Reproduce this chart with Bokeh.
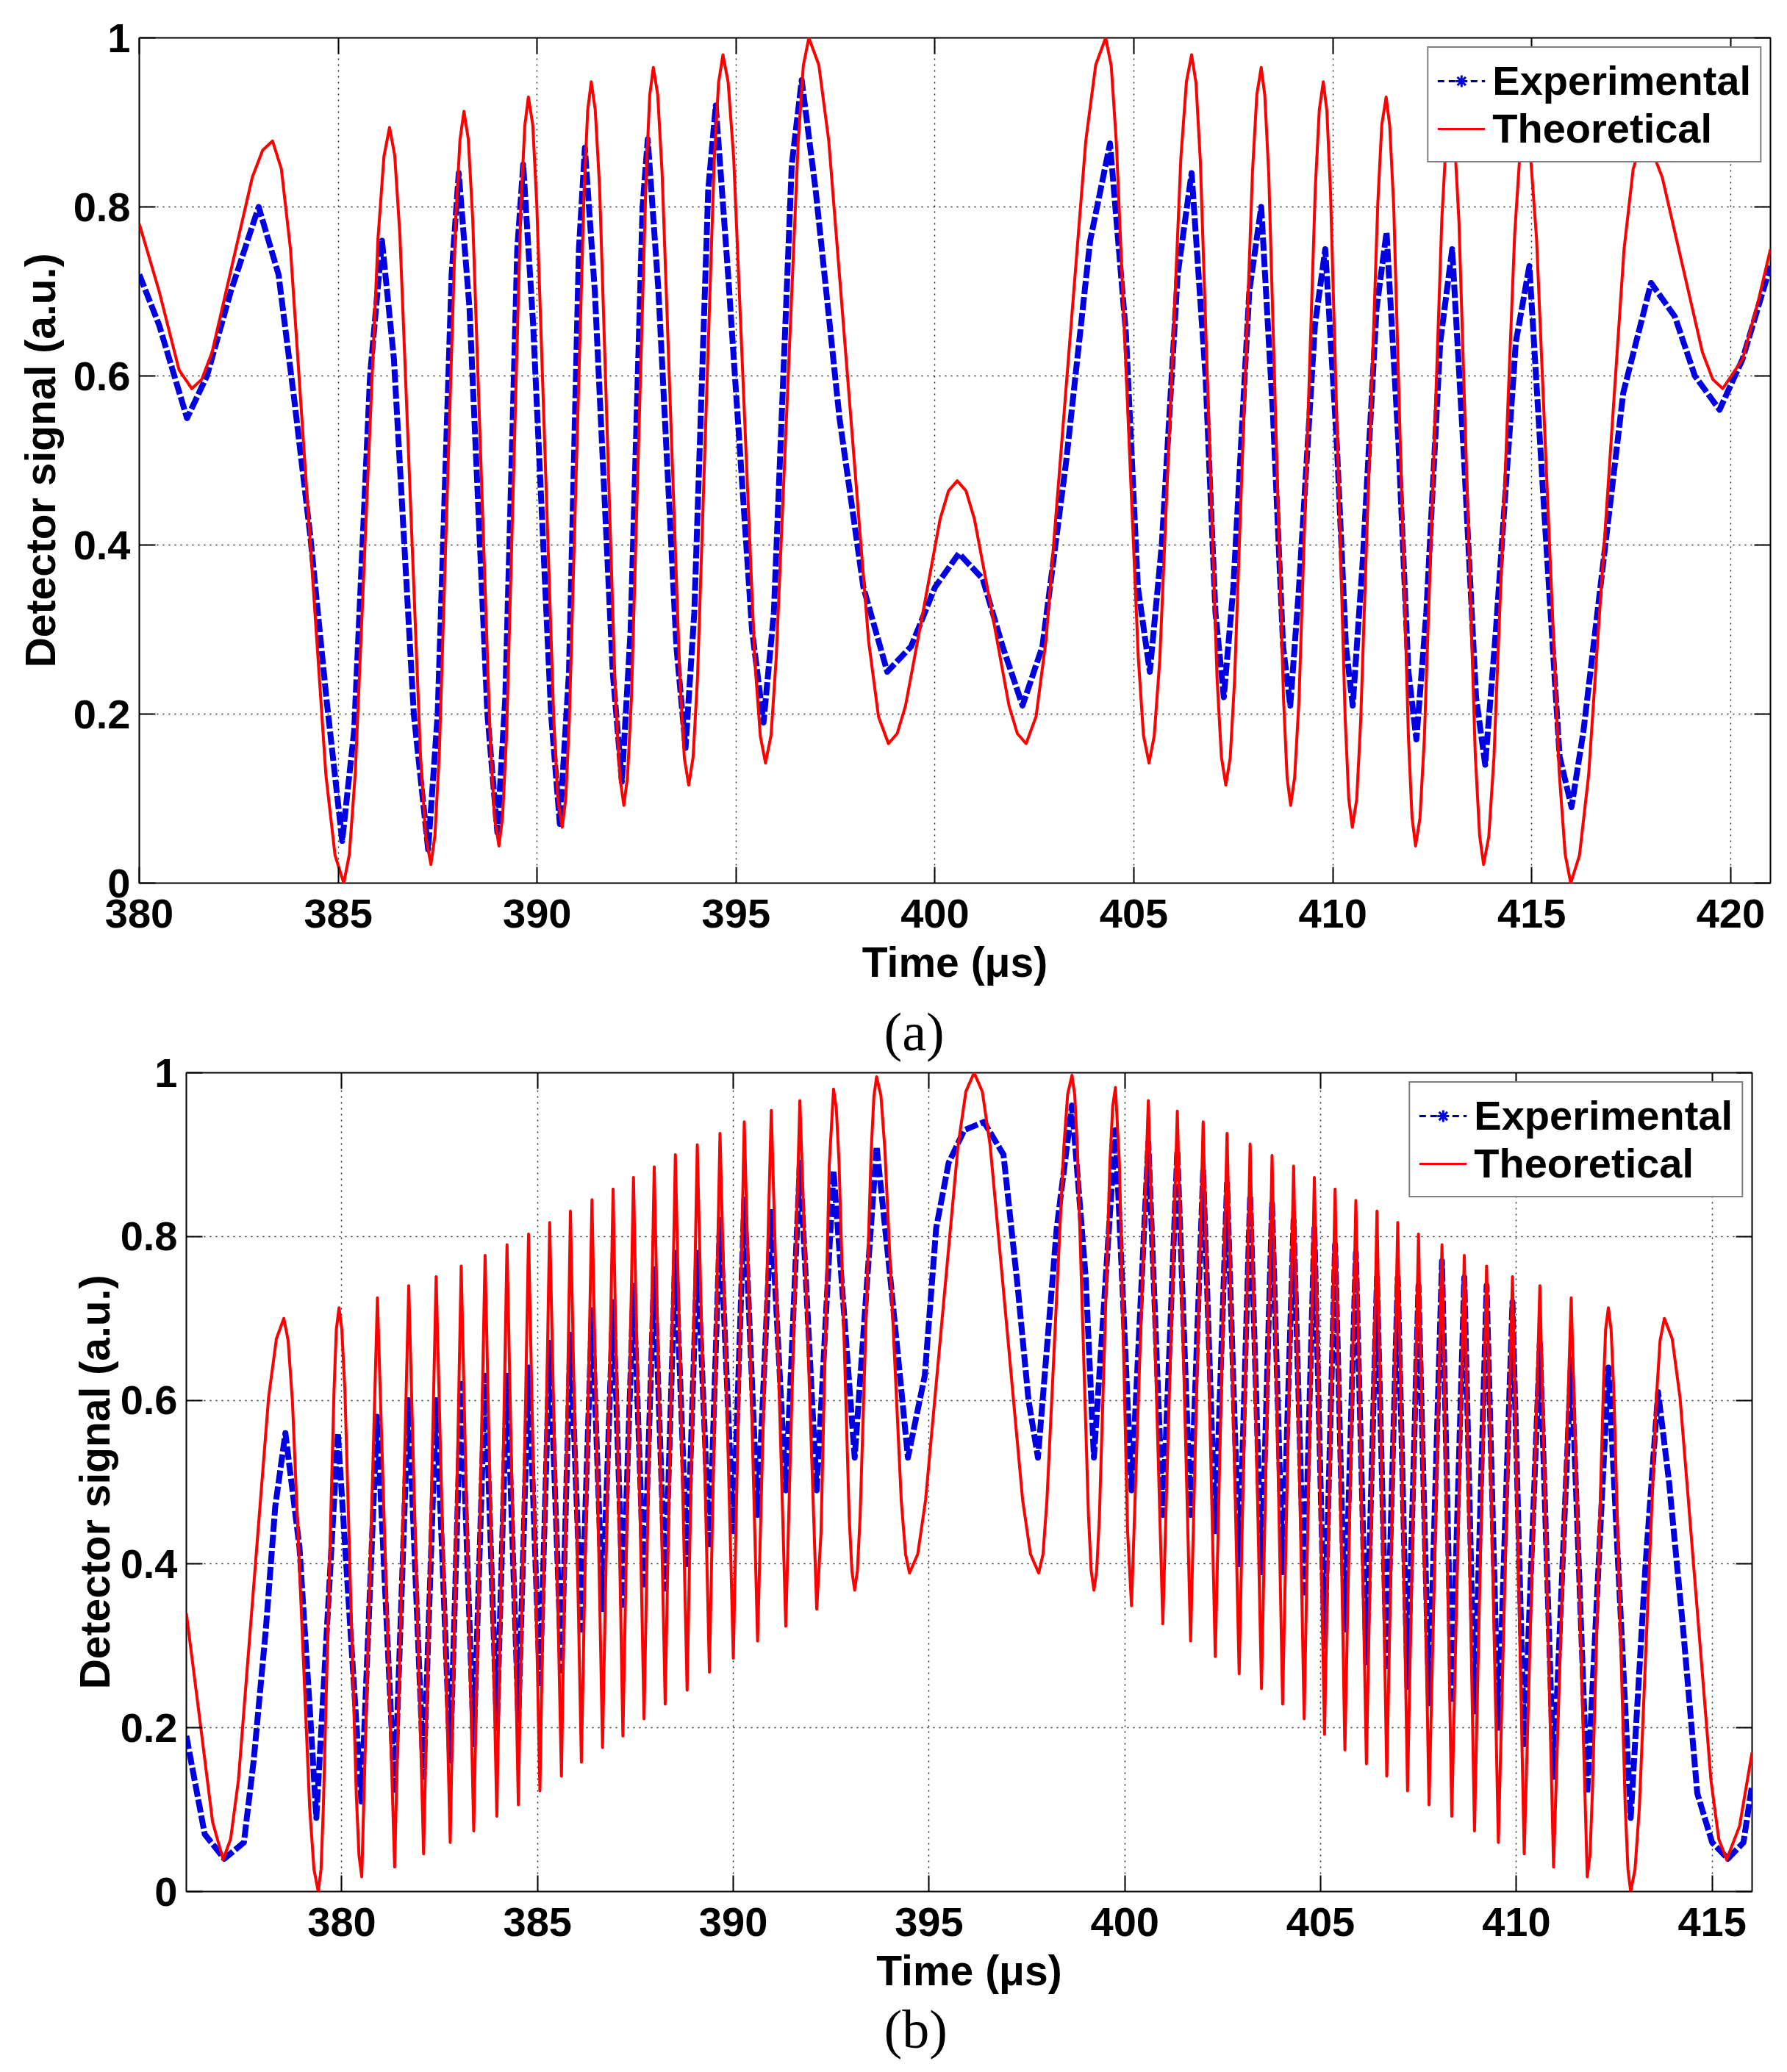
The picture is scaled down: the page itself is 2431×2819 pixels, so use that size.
from bokeh.plotting import figure
from bokeh.models import (FixedTicker, LinearAxis, Legend, LegendItem, Title,
                          CustomJSTickFormatter, Range1d)
from bokeh.embed import file_html
from bokeh.resources import INLINE

# ---------------- data ----------------
# panel (a)
a_theoretical = [
    (380.0, 0.78), (380.5, 0.70), (381.0, 0.607), (381.32, 0.585),
    (381.57, 0.596), (381.83, 0.628), (382.84, 0.835), (383.10, 0.867), (383.35, 0.878),
    (383.57, 0.845), (383.80, 0.750), (384.245, 0.439), (384.69, 0.128), (384.92, 0.033), (385.14, 0.0),
    (385.28, 0.034), (385.43, 0.131), (386.00, 0.763), (386.15, 0.860), (386.29, 0.894),
    (386.42, 0.861), (386.55, 0.767), (387.07, 0.149), (387.20, 0.055), (387.33, 0.022),
    (387.43, 0.056), (387.54, 0.152), (387.95, 0.783), (388.06, 0.879), (388.16, 0.913),
    (388.27, 0.880), (388.38, 0.786), (388.82, 0.171), (388.93, 0.077), (389.04, 0.044),
    (389.13, 0.078), (389.23, 0.173), (389.59, 0.801), (389.69, 0.896), (389.78, 0.93),
    (389.89, 0.897), (389.99, 0.804), (390.42, 0.192), (390.52, 0.099), (390.63, 0.066),
    (390.72, 0.100), (390.81, 0.195), (391.18, 0.819), (391.27, 0.914), (391.36, 0.948),
    (391.46, 0.915), (391.57, 0.823), (391.97, 0.217), (392.08, 0.125), (392.18, 0.092),
    (392.27, 0.125), (392.37, 0.219), (392.74, 0.838), (392.83, 0.932), (392.92, 0.965),
    (393.03, 0.933), (393.14, 0.841), (393.59, 0.240), (393.70, 0.148), (393.81, 0.116),
    (393.92, 0.149), (394.03, 0.242), (394.45, 0.854), (394.56, 0.947), (394.67, 0.98),
    (394.80, 0.948), (394.94, 0.858), (395.47, 0.264), (395.61, 0.174), (395.74, 0.142),
    (395.88, 0.175), (396.01, 0.267), (396.56, 0.875), (396.69, 0.967), (396.83, 1.0),
    (397.08, 0.968), (397.33, 0.878), (397.83, 0.583), (398.33, 0.287), (398.58, 0.197), (398.83, 0.165),
    (399.05, 0.177), (399.26, 0.210), (399.70, 0.321), (400.13, 0.431), (400.34, 0.464), (400.56, 0.476),
    (400.78, 0.464), (400.99, 0.431), (401.43, 0.321), (401.86, 0.210), (402.07, 0.177), (402.29, 0.165),
    (402.54, 0.197), (402.79, 0.287), (403.29, 0.583), (403.79, 0.878), (404.04, 0.968), (404.29, 1.0),
    (404.43, 0.967), (404.56, 0.875), (405.11, 0.267), (405.24, 0.175), (405.38, 0.142),
    (405.51, 0.174), (405.65, 0.264), (406.18, 0.858), (406.32, 0.948), (406.45, 0.98),
    (406.56, 0.947), (406.67, 0.854), (407.09, 0.242), (407.20, 0.149), (407.31, 0.116),
    (407.42, 0.148), (407.53, 0.240), (407.98, 0.841), (408.09, 0.933), (408.2, 0.965),
    (408.29, 0.932), (408.39, 0.838), (408.76, 0.219), (408.85, 0.125), (408.94, 0.092),
    (409.04, 0.125), (409.15, 0.217), (409.56, 0.823), (409.66, 0.915), (409.76, 0.948),
    (409.85, 0.914), (409.94, 0.819), (410.31, 0.195), (410.40, 0.100), (410.49, 0.066),
    (410.60, 0.099), (410.70, 0.192), (411.13, 0.804), (411.23, 0.897), (411.34, 0.93),
    (411.43, 0.896), (411.53, 0.801), (411.90, 0.173), (411.99, 0.078), (412.08, 0.044),
    (412.19, 0.077), (412.30, 0.171), (412.74, 0.786), (412.85, 0.880), (412.96, 0.913),
    (413.06, 0.879), (413.17, 0.783), (413.58, 0.152), (413.69, 0.056), (413.79, 0.022),
    (413.92, 0.055), (414.05, 0.149), (414.57, 0.767), (414.70, 0.861), (414.83, 0.894),
    (414.97, 0.860), (415.12, 0.763), (415.69, 0.131), (415.84, 0.034), (415.98, 0.0),
    (416.20, 0.033), (416.43, 0.128), (416.875, 0.439), (417.32, 0.750), (417.55, 0.845), (417.77, 0.878),
    (418.02, 0.867), (418.28, 0.835), (419.29, 0.628), (419.55, 0.596), (419.8, 0.585),
    (420.3, 0.62), (420.7, 0.69), (421.0, 0.75),
]

a_experimental = [
    (380.0, 0.72), (380.5, 0.66), (381.2, 0.55), (381.7, 0.60), (382.3, 0.70),
    (383.0, 0.80), (383.5, 0.72), (383.9, 0.57), (384.3, 0.41), (384.7, 0.22),
    (385.1, 0.05), (385.4, 0.18), (385.8, 0.60), (386.1, 0.76), (386.4, 0.62),
    (386.9, 0.20), (387.26, 0.04), (387.5, 0.20), (387.85, 0.72), (388.03, 0.84),
    (388.3, 0.68), (388.75, 0.20), (389.0, 0.06), (389.2, 0.22), (389.5, 0.75),
    (389.65, 0.85), (389.9, 0.66), (390.35, 0.20), (390.57, 0.07), (390.8, 0.25),
    (391.05, 0.75), (391.2, 0.87), (391.45, 0.70), (391.9, 0.25), (392.13, 0.12),
    (392.35, 0.30), (392.65, 0.80), (392.78, 0.88), (393.05, 0.70), (393.5, 0.28),
    (393.73, 0.16), (393.95, 0.32), (394.3, 0.82), (394.49, 0.92), (394.8, 0.72),
    (395.4, 0.30), (395.69, 0.19), (395.95, 0.32), (396.4, 0.85), (396.65, 0.95),
    (397.0, 0.82), (397.6, 0.55), (398.2, 0.35), (398.8, 0.25), (399.4, 0.28),
    (400.0, 0.35), (400.6, 0.39), (401.2, 0.36), (401.7, 0.28), (402.2, 0.21),
    (402.7, 0.28), (403.3, 0.50), (403.9, 0.76), (404.4, 0.875), (404.8, 0.65),
    (405.1, 0.35), (405.4, 0.25), (405.7, 0.40), (406.1, 0.72), (406.45, 0.84),
    (406.8, 0.60), (407.05, 0.32), (407.26, 0.22), (407.5, 0.35), (407.9, 0.70),
    (408.2, 0.80), (408.5, 0.55), (408.75, 0.28), (408.93, 0.21), (409.15, 0.35),
    (409.55, 0.66), (409.81, 0.75), (410.1, 0.52), (410.33, 0.28), (410.5, 0.21),
    (410.75, 0.38), (411.1, 0.68), (411.35, 0.77), (411.65, 0.52), (411.9, 0.25),
    (412.1, 0.17), (412.35, 0.32), (412.7, 0.64), (413.0, 0.75), (413.3, 0.50),
    (413.6, 0.22), (413.83, 0.14), (414.1, 0.30), (414.6, 0.64), (414.94, 0.73),
    (415.3, 0.45), (415.7, 0.15), (416.0, 0.09), (416.3, 0.18), (416.8, 0.38),
    (417.3, 0.58), (418.0, 0.71), (418.6, 0.67), (419.1, 0.60), (419.72, 0.56),
    (420.3, 0.62), (421.0, 0.73),
]

# panel (b)
b_theoretical = [
    (376.03, 0.34), (376.4, 0.20), (376.7, 0.085), (376.97, 0.039),
    (377.16, 0.064), (377.36, 0.136), (377.745, 0.37), (378.13, 0.603), (378.33, 0.675), (378.52, 0.70),
    (378.63, 0.673), (378.74, 0.598), (379.18, 0.102), (379.29, 0.027), (379.4, 0.0),
    (379.47, 0.027), (379.53, 0.104), (379.80, 0.609), (379.86, 0.686), (379.93, 0.713),
    (380.00, 0.687), (380.08, 0.612), (380.37, 0.119), (380.44, 0.044), (380.51, 0.018),
    (380.91, 0.725), (381.35, 0.03), (381.71, 0.74), (382.09, 0.046),
    (382.41, 0.751), (382.77, 0.06), (383.05, 0.764), (383.37, 0.074),
    (383.66, 0.777), (383.96, 0.092), (384.22, 0.79), (384.51, 0.106),
    (384.77, 0.803), (385.06, 0.123), (385.31, 0.817), (385.61, 0.141),
    (385.84, 0.831), (386.12, 0.158), (386.39, 0.845), (386.66, 0.176),
    (386.93, 0.858), (387.18, 0.19), (387.45, 0.872), (387.72, 0.211),
    (387.98, 0.885), (388.26, 0.229), (388.52, 0.9), (388.82, 0.246),
    (389.08, 0.912), (389.39, 0.268), (389.66, 0.926), (390.0, 0.285),
    (390.28, 0.94), (390.62, 0.306), (390.97, 0.954), (391.34, 0.324),
    (391.7, 0.966), (392.13, 0.345),
    (392.24, 0.438), (392.45, 0.887), (392.56, 0.98),
    (392.63, 0.957), (392.70, 0.891), (392.96, 0.457), (393.03, 0.391), (393.1, 0.368),
    (393.17, 0.392), (393.24, 0.46), (393.52, 0.903), (393.59, 0.971), (393.66, 0.995),
    (393.77, 0.972), (393.87, 0.907), (394.29, 0.477), (394.40, 0.412), (394.5, 0.389),
    (394.71, 0.412), (394.91, 0.478), (395.325, 0.695), (395.74, 0.911), (395.94, 0.977), (396.15, 1.0),
    (396.36, 0.977), (396.56, 0.911), (396.975, 0.695), (397.39, 0.478), (397.59, 0.412), (397.8, 0.389),
    (397.91, 0.412), (398.01, 0.478), (398.44, 0.908), (398.54, 0.974), (398.65, 0.997),
    (398.72, 0.973), (398.79, 0.905), (399.07, 0.46), (399.14, 0.392), (399.21, 0.368),
    (399.28, 0.391), (399.35, 0.458), (399.62, 0.892), (399.69, 0.959), (399.76, 0.982),
    (399.86, 0.89), (400.07, 0.44), (400.17, 0.349),
    (400.6, 0.966), (400.97, 0.327), (401.34, 0.953), (401.68, 0.306),
    (402.0, 0.94), (402.31, 0.287), (402.61, 0.926), (402.92, 0.266),
    (403.2, 0.913), (403.49, 0.248), (403.76, 0.899), (404.03, 0.229),
    (404.31, 0.886), (404.58, 0.211), (404.84, 0.872), (405.1, 0.192),
    (405.37, 0.858), (405.62, 0.173), (405.9, 0.844), (406.17, 0.156),
    (406.44, 0.831), (406.69, 0.141), (406.97, 0.817), (407.22, 0.123),
    (407.5, 0.803), (407.77, 0.106), (408.1, 0.79), (408.35, 0.092),
    (408.67, 0.777), (408.93, 0.074), (409.24, 0.764), (409.54, 0.06),
    (409.9, 0.751), (410.2, 0.046), (410.6, 0.74), (410.95, 0.03),
    (411.4, 0.725), (411.81, 0.018),
    (411.88, 0.044), (411.94, 0.119), (412.22, 0.612), (412.28, 0.687), (412.35, 0.713),
    (412.42, 0.686), (412.49, 0.609), (412.78, 0.104), (412.85, 0.027), (412.92, 0.0),
    (413.03, 0.027), (413.14, 0.102), (413.57, 0.598), (413.67, 0.673), (413.78, 0.70),
    (413.98, 0.675), (414.18, 0.603), (414.575, 0.37), (414.97, 0.136), (415.17, 0.064), (415.37, 0.039),
    (415.7, 0.08), (416.02, 0.17),
]

b_experimental = [
    (376.03, 0.19), (376.5, 0.07), (377.0, 0.04), (377.5, 0.06), (377.75, 0.16),
    (378.06, 0.32), (378.3, 0.47), (378.56, 0.56), (378.92, 0.42), (379.2, 0.21),
    (379.35, 0.09), (379.9, 0.56), (380.5, 0.11), (380.9, 0.58), (381.35, 0.12),
    (381.7, 0.60), (382.09, 0.14), (382.41, 0.60), (382.77, 0.16), (383.05, 0.62),
    (383.37, 0.18), (383.66, 0.63), (383.96, 0.20), (384.22, 0.63), (384.51, 0.21),
    (384.77, 0.64), (385.06, 0.25), (385.31, 0.67), (385.61, 0.27), (385.84, 0.68),
    (386.12, 0.32), (386.39, 0.71), (386.66, 0.345), (386.93, 0.72), (387.18, 0.35),
    (387.45, 0.74), (387.72, 0.37), (387.98, 0.76), (388.26, 0.37), (388.52, 0.78),
    (388.82, 0.40), (389.08, 0.78), (389.39, 0.42), (389.66, 0.82), (390.0, 0.44),
    (390.28, 0.845), (390.62, 0.46), (390.97, 0.83), (391.34, 0.49), (391.7, 0.89),
    (392.13, 0.49), (392.56, 0.88), (393.1, 0.53), (393.66, 0.91), (394.03, 0.74),
    (394.46, 0.53), (394.89, 0.63), (395.18, 0.81), (395.5, 0.89), (395.9, 0.93),
    (396.4, 0.94), (396.9, 0.90), (397.26, 0.74), (397.54, 0.60), (397.78, 0.53),
    (398.26, 0.81), (398.65, 0.96), (399.0, 0.75), (399.21, 0.53), (399.76, 0.93),
    (400.17, 0.49), (400.6, 0.915), (400.97, 0.46), (401.34, 0.905), (401.68, 0.46),
    (402.0, 0.88), (402.31, 0.44), (402.61, 0.865), (402.92, 0.40), (403.2, 0.85),
    (403.49, 0.39), (403.76, 0.84), (404.03, 0.39), (404.31, 0.82), (404.58, 0.36),
    (404.84, 0.81), (405.1, 0.30), (405.37, 0.79), (405.62, 0.32), (405.9, 0.78),
    (406.17, 0.28), (406.44, 0.75), (406.69, 0.27), (406.97, 0.75), (407.22, 0.25),
    (407.5, 0.74), (407.77, 0.23), (408.1, 0.77), (408.35, 0.23), (408.67, 0.75),
    (408.93, 0.22), (409.24, 0.74), (409.54, 0.20), (409.9, 0.72), (410.2, 0.18),
    (410.6, 0.67), (410.95, 0.14), (411.4, 0.65), (411.81, 0.12), (412.35, 0.64),
    (412.92, 0.09), (413.3, 0.40), (413.62, 0.61), (413.9, 0.50), (414.26, 0.32),
    (414.62, 0.12), (415.0, 0.06), (415.4, 0.04), (415.8, 0.06), (416.02, 0.13),
]

a_xticks = [380, 385, 390, 395, 400, 405, 410, 415, 420]
b_xticks = [380, 385, 390, 395, 400, 405, 410, 415]
y_ticks = [0, 0.2, 0.4, 0.6, 0.8, 1]
series_labels = ["Experimental", "Theoretical"]
panel_tags = ["(a)", "(b)"]
x_title = "Time (\u03bcs)"
y_title = "Detector signal (a.u.)"

# ---------------- styling ----------------
FONT = "Liberation Sans"
BLUE = "#0000E0"
NAVY = "#000090"
RED = "#FF0000"


def set_standoff(title, val):
    if "standoff" in Title.properties():
        title.standoff = val


def make_panel(theo, expe, xr, xticks, frame_w, frame_h, borders, ylab_standoff):
    left, right, top, bottom = borders
    p = figure(frame_width=frame_w, frame_height=frame_h,
               output_backend="svg", toolbar_location=None,
               x_range=Range1d(*xr), y_range=Range1d(0, 1),
               min_border_left=left, min_border_right=right,
               min_border_top=top, min_border_bottom=bottom)
    p.extra_y_ranges = {"legend_only": Range1d(10, 11)}
    p.background_fill_color = "white"
    p.border_fill_color = "white"
    p.outline_line_color = "black"
    p.outline_line_width = 2

    yfmt = CustomJSTickFormatter(code="return (Math.round(tick*10)/10).toString();")
    p.xaxis.ticker = FixedTicker(ticks=xticks)
    p.yaxis.ticker = FixedTicker(ticks=y_ticks)
    p.yaxis.formatter = yfmt
    for ax in p.xaxis + p.yaxis:
        ax.major_tick_in = 22
        ax.major_tick_out = 0
        ax.minor_tick_line_color = None
        ax.axis_line_color = None
        ax.major_tick_line_width = 2
        ax.major_label_text_font = FONT
        ax.major_label_text_font_style = "bold"
        ax.major_label_text_font_size = "56px"
        ax.major_label_text_color = "black"
        ax.axis_label_text_font = FONT
        ax.axis_label_text_font_style = "bold"
        ax.axis_label_text_font_size = "57px"
        ax.axis_label_text_color = "black"
    p.xaxis.major_label_standoff = 22
    p.xaxis.axis_label_standoff = 12
    p.yaxis.major_label_standoff = 12
    p.yaxis.axis_label_standoff = ylab_standoff
    p.xaxis.axis_label = x_title
    p.yaxis.axis_label = y_title

    # mirrored inward tick marks on top and right (box style), no labels
    blank = CustomJSTickFormatter(code="return '';")
    for side, tk in (("above", xticks), ("right", y_ticks)):
        ax = LinearAxis(ticker=FixedTicker(ticks=tk), formatter=blank,
                        major_tick_in=22, major_tick_out=0,
                        minor_tick_line_color=None, axis_line_color=None,
                        major_tick_line_width=2, major_label_text_font_size="8px",
                        major_label_standoff=0)
        p.add_layout(ax, side)

    p.grid.grid_line_color = "black"
    p.grid.grid_line_dash = "2 6"
    p.grid.grid_line_width = 1.5
    p.grid.grid_line_alpha = 0.85
    p.xgrid.ticker = FixedTicker(ticks=xticks)
    p.ygrid.ticker = FixedTicker(ticks=y_ticks)

    et, es = zip(*expe)
    tt, ts = zip(*theo)
    et, es, tt, ts = list(et), list(es), list(tt), list(ts)
    p.line(et, es, line_color=BLUE, line_width=8, line_dash="18 4", line_join="round")
    p.line(tt, ts, line_color=RED, line_width=4, line_join="round")

    # legend glyph renderers (same series, mapped to an off-screen range)
    leg_line = p.line(et, es, y_range_name="legend_only", line_color=NAVY,
                      line_width=3, line_dash="9 6")
    leg_mark = p.scatter(et, es, y_range_name="legend_only", marker="asterisk",
                         size=14, line_color=BLUE, line_width=3)
    leg_red = p.line(tt, ts, y_range_name="legend_only", line_color=RED, line_width=3)
    legend = Legend(items=[LegendItem(label=series_labels[0], renderers=[leg_line, leg_mark]),
                           LegendItem(label=series_labels[1], renderers=[leg_red])],
                    location="top_right", margin=12, padding=12, spacing=0,
                    glyph_width=65, glyph_height=40, label_standoff=10,
                    label_text_font=FONT, label_text_font_style="bold",
                    label_text_font_size="56px", label_text_color="black",
                    border_line_color="black", border_line_width=2,
                    background_fill_color="white", background_fill_alpha=1.0)
    p.add_layout(legend)
    return p


def tag_title(text, standoff):
    t = Title(text=text, align="left", offset=949,
              text_font="Liberation Serif", text_font_style="normal",
              text_font_size="74px", text_color="black")
    set_standoff(t, standoff)
    return t


pa = make_panel(a_theoretical, a_experimental, (380, 421), a_xticks,
                2219, 1150, (189, 15, 51, 137), 10)
pb = make_panel(b_theoretical, b_experimental, (376.03, 416.02), b_xticks,
                2130, 1114, (253, 40, 116, 226), 0)
# "(a)" sits between the panels: drawn above panel (b)'s frame
pb.add_layout(tag_title(panel_tags[0], 30), "above")
pb.add_layout(tag_title(panel_tags[1], 4), "below")

open("out.html", "w").write(file_html([pa, pb], INLINE))
